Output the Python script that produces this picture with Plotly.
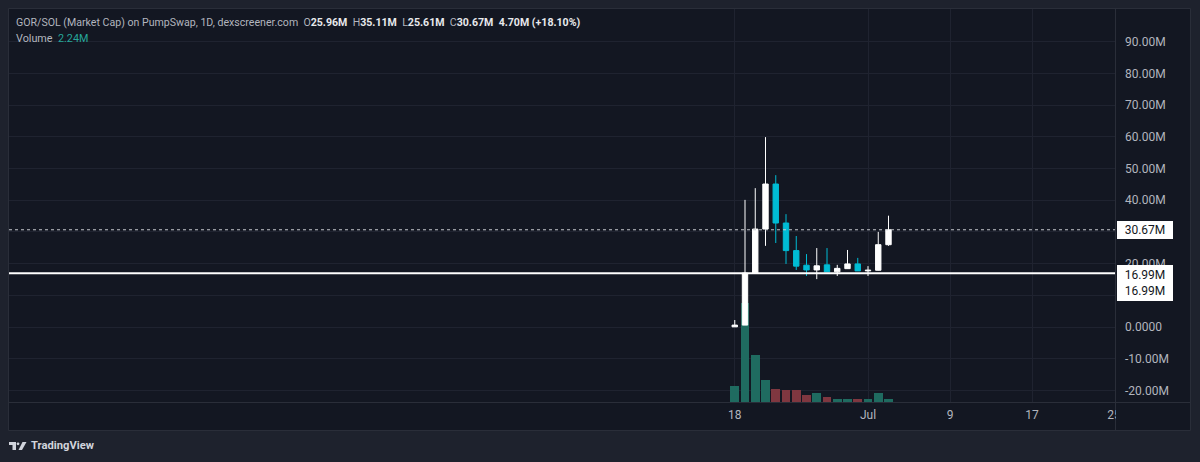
import plotly.graph_objects as go
import pandas as pd

# ---------------- data ----------------
dates = pd.date_range("2025-06-18", "2025-07-03", freq="D")
opens  = [0.05, 0.6, 17.0, 30.9, 45.1, 32.8, 24.1, 19.5, 18.0, 19.6, 17.4, 18.4, 19.9, 17.7, 17.9, 25.96]
highs  = [2.2, 40.1, 43.8, 59.9, 47.9, 35.6, 28.7, 23.0, 24.9, 24.9, 19.6, 24.3, 21.8, 19.2, 30.0, 35.11]
lows   = [0.0, 0.6, 17.0, 25.6, 26.5, 19.9, 18.0, 16.1, 15.1, 17.3, 16.1, 18.3, 17.7, 16.1, 17.8, 25.61]
closes = [0.6, 17.0, 30.9, 45.1, 32.8, 24.1, 19.2, 18.0, 19.3, 17.4, 18.5, 19.9, 17.7, 17.9, 25.97, 30.67]
volumes = [10.5, 65.0, 31.0, 14.8, 8.8, 7.7, 7.7, 4.9, 5.9, 3.3, 2.2, 2.2, 2.2, 1.8, 5.9, 2.24]

price_ticks = [-20, -10, 0, 10, 20, 30, 40, 50, 60, 70, 80, 90]
price_tick_text = ["-20.00M", "-10.00M", "0.0000", "10.00M", "20.00M", "30.00M",
                   "40.00M", "50.00M", "60.00M", "70.00M", "80.00M", "90.00M"]
time_ticks = ["2025-06-18", "2025-07-01", "2025-07-09", "2025-07-17", "2025-07-25"]
time_tick_text = ["18", "Jul", "9", "17", "25"]

last_price = 30.67
line_price = 16.99

# ---------------- layout geometry ----------------
W, H = 1200, 462
L, R, T, B = 9, 1115, 9, 402   # plot pane in pixels
AX_R, AX_B = 1190, 430

def px(x):
    return (x - L) / (R - L)

def py(y):
    return (B - y) / (B - T)

BG_OUT = "#1e222d"
BG = "#131722"
GRID = "#1f2330"
BORDER = "#2a2e39"
TXT = "#b2b5be"
UP = "#ffffff"
DOWN = "#00bcd4"
VOL_UP = "#1f6b60"
VOL_DN = "#7f3740"

vol_colors = [VOL_UP if c >= o else VOL_DN for o, c in zip(opens, closes)]

fig = go.Figure()
fig.add_trace(go.Bar(
    x=dates, y=volumes, marker=dict(color=vol_colors, line=dict(width=0)),
    width=0.86 * 86400000, yaxis="y", hoverinfo="skip", showlegend=False,
))
fig.add_trace(go.Candlestick(
    x=dates, open=opens, high=highs, low=lows, close=closes, yaxis="y2",
    increasing=dict(line=dict(color=UP, width=1), fillcolor=UP),
    decreasing=dict(line=dict(color=DOWN, width=1), fillcolor=DOWN),
    whiskerwidth=0, showlegend=False,
))

jul1 = pd.Timestamp("2025-07-01")
day_px = 10.25
x0 = jul1 - pd.Timedelta(days=(868 - L) / day_px)
x1 = jul1 + pd.Timedelta(days=(R - 868) / day_px)

scale = 3.17  # px per M
zero_y = 327
y2_lo = (zero_y - B) / scale
y2_hi = (zero_y - T) / scale

shapes = [
    dict(type="rect", xref="paper", yref="paper", x0=px(8.5), x1=px(AX_R + 0.5),
         y0=py(AX_B + 0.5), y1=py(8.5), fillcolor=BG, line=dict(color=BORDER, width=1),
         layer="below"),
    dict(type="line", xref="paper", yref="paper", x0=px(R + 0.5), x1=px(R + 0.5),
         y0=py(AX_B), y1=py(T), line=dict(color=BORDER, width=1), layer="below"),
    dict(type="line", xref="paper", yref="paper", x0=px(8.5), x1=px(AX_R),
         y0=py(B + 0.5), y1=py(B + 0.5), line=dict(color=BORDER, width=1), layer="below"),
    dict(type="line", xref="paper", yref="y2", x0=0, x1=1, y0=last_price, y1=last_price,
         line=dict(color="#c8cad0", width=1, dash="dot"), layer="above"),
    dict(type="line", xref="paper", yref="y2", x0=0, x1=1, y0=line_price, y1=line_price,
         line=dict(color="#ffffff", width=2), layer="above"),
    dict(type="rect", xref="paper", yref="paper", x0=px(R + 1), x1=px(AX_R),
         y0=py(AX_B), y1=py(B + 1), fillcolor=BG, line=dict(width=0), layer="above"),
]

def path_from(points):
    return "M " + " L ".join(f"{px(a):.5f},{py(b):.5f}" for a, b in points) + " Z"

logo_col = "#d1d4dc"
shapes += [
    dict(type="path", xref="paper", yref="paper",
         path=path_from([(9, 442), (16, 442), (16, 450), (12.5, 450), (12.5, 445), (9, 445)]),
         fillcolor=logo_col, line=dict(width=0)),
    dict(type="circle", xref="paper", yref="paper", x0=px(16.6), x1=px(19.4),
         y0=py(445.2), y1=py(442.4), fillcolor=logo_col, line=dict(width=0)),
    dict(type="path", xref="paper", yref="paper",
         path=path_from([(22.5, 442), (26.5, 442), (22, 450), (18.5, 450)]),
         fillcolor=logo_col, line=dict(width=0)),
]

W_ = "#e8e9ec"
def v(s):
    return f"<span style='color:{W_}'><b>{s}</b></span>"

header = ("GOR/SOL (Market Cap) on PumpSwap, 1D, dexscreener.com  "
          f"O{v('25.96M')}  H{v('35.11M')}  L{v('25.61M')}  C{v('30.67M')}  "
          f"{v('4.70M (+18.10%)')}")

annotations = [
    dict(xref="paper", yref="paper", x=px(14), y=py(22), xanchor="left", yanchor="middle",
         text=header, showarrow=False, font=dict(family="Roboto", size=10.6, color=TXT)),
    dict(xref="paper", yref="paper", x=px(14), y=py(38), xanchor="left", yanchor="middle",
         text="Volume  <span style='color:#26a69a'>2.24M</span>", showarrow=False,
         font=dict(family="Roboto", size=10.8, color=TXT)),
    dict(xref="paper", yref="y2", x=px(1117), y=last_price, xanchor="left", yanchor="middle",
         text="30.67M", showarrow=False, bgcolor="#ffffff", bordercolor="#ffffff",
         borderpad=1, width=52, align="center",
         font=dict(family="Roboto", size=12, color="#131722")),
    dict(xref="paper", yref="paper", x=px(1117), y=py(265), xanchor="left", yanchor="top",
         text="16.99M<br>16.99M", showarrow=False, bgcolor="#ffffff", bordercolor="#ffffff",
         borderpad=2, width=50, align="center",
         font=dict(family="Roboto", size=12, color="#131722")),
    dict(xref="paper", yref="paper", x=px(29), y=py(446), xanchor="left", yanchor="middle",
         text="<b>TradingView</b>", showarrow=False,
         font=dict(family="Roboto", size=11.2, color=logo_col)),
]

fig.update_layout(
    width=W, height=H,
    margin=dict(l=L, r=W - R, t=T, b=H - B),
    paper_bgcolor=BG_OUT, plot_bgcolor=BG,
    boxgap=0.25,
    bargap=0,
    showlegend=False,
    shapes=shapes,
    annotations=annotations,
    xaxis=dict(
        type="date", range=[x0, x1], rangeslider=dict(visible=False),
        tickmode="array", tickvals=time_ticks, ticktext=time_tick_text,
        showgrid=True, gridcolor=GRID, gridwidth=1, zeroline=False, showline=False,
        tickfont=dict(family="Roboto", size=12, color=TXT), ticks="", ticklabelstandoff=4,
        fixedrange=True,
    ),
    yaxis=dict(
        range=[0, 259], visible=False, showgrid=False, zeroline=False, fixedrange=True,
    ),
    yaxis2=dict(
        overlaying="y", side="right", range=[y2_lo, y2_hi],
        tickmode="array", tickvals=price_ticks, ticktext=price_tick_text,
        showgrid=True, gridcolor=GRID, gridwidth=1, zeroline=False, showline=False,
        tickfont=dict(family="Roboto", size=12, color=TXT), ticks="", ticklabelstandoff=9,
        fixedrange=True,
    ),
)

fig.write_html(
    "out.html",
    config={"displayModeBar": False},
    post_script="document.body.style.margin='0';document.body.style.overflow='hidden';"
                "document.body.style.background='#1e222d';",
)
